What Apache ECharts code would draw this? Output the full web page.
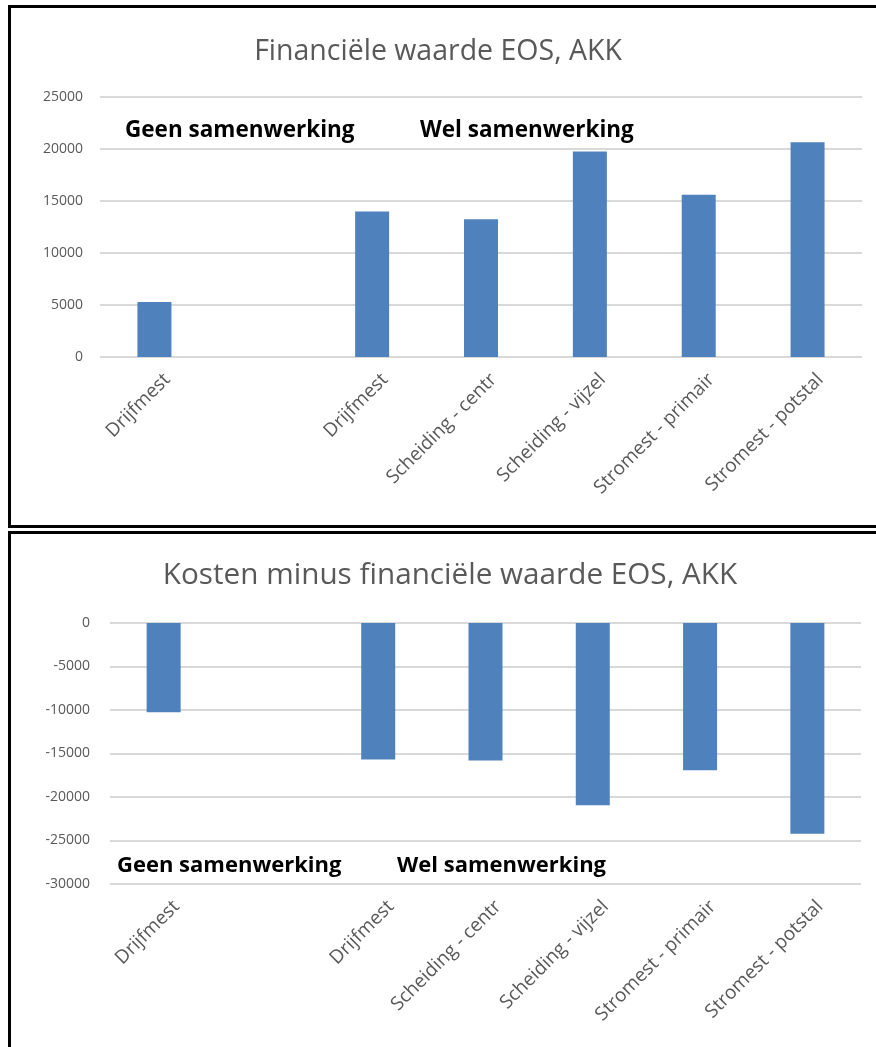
<!DOCTYPE html>
<html>
<head>
<meta charset="utf-8">
<script src="https://cdn.jsdelivr.net/npm/echarts@6/dist/echarts.min.js"></script>
<style>
  html, body { margin: 0; padding: 0; background: #fff; width: 876px; height: 1047px; overflow: hidden; position: relative; }
  .frame { position: absolute; border: 3px solid #000; box-sizing: border-box; }
  #frame1 { left: 8px; top: 5px; width: 900px; height: 523px; }
  #frame2 { left: 8px; top: 531px; width: 900px; height: 560px; }
  .chart { position: absolute; }
  #c1 { left: 0; top: 0; width: 876px; height: 527px; }
  #c2 { left: 0; top: 527px; width: 900px; height: 520px; }
</style>
</head>
<body>
<div id="frame1" class="frame"></div>
<div id="frame2" class="frame"></div>
<div id="c1" class="chart"></div>
<div id="c2" class="chart"></div>
<script>
// Scenario names (second slot left empty as a visual gap between the groups)
const categories = ['Drijfmest', '', 'Drijfmest', 'Scheiding - centr', 'Scheiding - vijzel', 'Stromest - primair', 'Stromest - potstal'];

// Financial value EOS (euro per year)
const financieleWaarde = [5280, null, 14000, 13250, 19750, 15600, 20650];
// Costs minus financial value EOS
const kostenMinusWaarde = [-10270, null, -15690, -15810, -20960, -16920, -24230];

const yTicks1 = { min: 0, max: 25000, interval: 5000 };
const yTicks2 = { min: -30000, max: 0, interval: 5000 };

const groupLabels = ['Geen samenwerking', 'Wel samenwerking'];

const titles = ['Financiële waarde EOS, AKK', 'Kosten minus financiële waarde EOS, AKK'];

const BAR = '#4f81bd';
const GREY = '#595959';
const FONT = '"Open Sans", "Liberation Sans", sans-serif';

function build(title, titleSize, values, ticks, grid, titleTop, labelMargin, notes) {
  return {
    animation: false,
    textStyle: { fontFamily: FONT },
    title: {
      text: title,
      left: 'center',
      top: titleTop,
      textStyle: { fontFamily: FONT, fontSize: titleSize, fontWeight: 'normal', color: GREY }
    },
    grid: grid,
    xAxis: {
      type: 'category',
      data: categories,
      axisLine: { show: false, onZero: false },
      axisTick: { show: false },
      axisLabel: {
        interval: 0, rotate: 45, color: GREY, fontSize: 19, fontFamily: FONT,
        margin: 7, verticalAlign: 'top', lineHeight: 36
      }
    },
    yAxis: {
      type: 'value',
      min: ticks.min,
      max: ticks.max,
      interval: ticks.interval,
      axisLine: { show: false },
      axisTick: { show: false },
      axisLabel: {
        color: GREY, fontSize: 14, fontFamily: FONT, margin: labelMargin,
        formatter: v => String(v)
      },
      splitLine: { lineStyle: { color: '#d9d9d9', width: 2 } }
    },
    series: [{
      type: 'bar',
      data: values,
      barWidth: 34,
      itemStyle: { color: BAR }
    }],
    graphic: notes.map(n => ({
      type: 'text',
      left: n.x,
      top: n.y,
      style: { text: n.text, fill: '#000', font: 'bold ' + n.size + 'px ' + FONT }
    }))
  };
}

const chart1 = echarts.init(document.getElementById('c1'));
chart1.setOption(build(
  titles[0], 28.5, financieleWaarde, yTicks1,
  { left: 100, top: 97, width: 762, height: 260 },
  32, 17,
  [{ text: groupLabels[0], x: 125, y: 119, size: 22.5 }, { text: groupLabels[1], x: 420, y: 119, size: 22.5 }]
));

const chart2 = echarts.init(document.getElementById('c2'));
chart2.setOption(build(
  titles[1], 29.7, kostenMinusWaarde, yTicks2,
  { left: 110, top: 96, width: 751, height: 261 },
  29, 20,
  [{ text: groupLabels[0], x: 117, y: 328, size: 22 }, { text: groupLabels[1], x: 397, y: 328, size: 22 }]
));
</script>
</body>
</html>
